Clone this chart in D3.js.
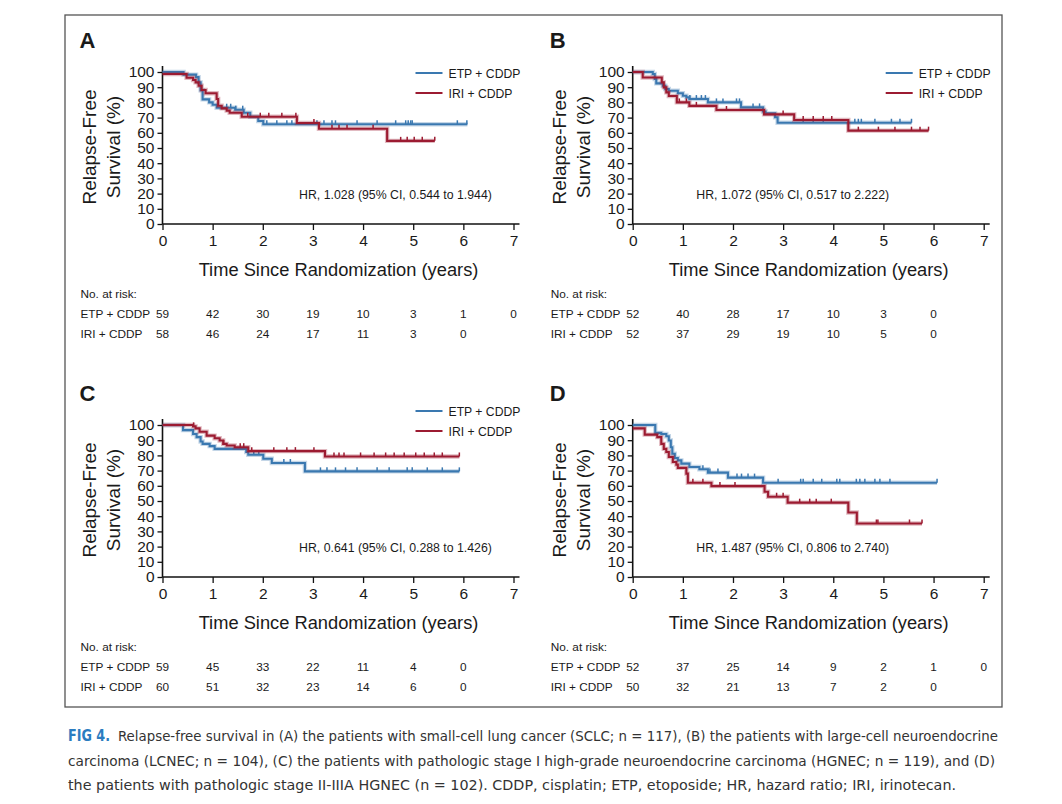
<!DOCTYPE html>
<html>
<head>
<meta charset="utf-8">
<script src="https://cdn.jsdelivr.net/npm/d3@7"></script>
<style>
  body { margin: 0; background: #fff; }
  text { font-family: "Liberation Sans", Arial, sans-serif; fill: #1a1a1a; }
</style>
</head>
<body>
<div id="chart"></div>
<script>
// axis ticks
const years = [0, 1, 2, 3, 4, 5, 6, 7];
const yTicks = [0, 10, 20, 30, 40, 50, 60, 70, 80, 90, 100];
const arms = ["ETP + CDDP", "IRI + CDDP"];

// A: SCLC
const A_etp_t = [0, 0.42, 0.67, 0.72, 0.76, 0.8, 0.93, 1.0, 1.08, 1.45, 1.62, 1.75, 1.91, 2.01];
const A_etp_s = [100, 98.3, 96.6, 93.2, 88, 82, 80, 78.5, 76.5, 75.2, 73.2, 70.6, 67.8, 65.6];
const A_etp_end = 6.08;
const A_etp_cens = [1.28, 1.36, 1.46, 1.6, 2.08, 2.28, 2.48, 2.58, 3.08, 3.22, 3.38, 3.45, 3.88, 4.28, 4.65, 4.85, 4.9, 4.95, 4.98, 5.88, 6.07];
const A_iri_t = [0, 0.48, 0.61, 0.66, 0.72, 0.78, 0.86, 1.08, 1.11, 1.18, 1.28, 1.34, 1.58, 2.68, 3.12, 4.48];
const A_iri_s = [98.7, 96.2, 94.7, 93.2, 91, 88.2, 86, 82.2, 77.8, 76.1, 74.6, 73.2, 70.6, 66.4, 62.7, 54.7];
const A_iri_end = 5.43;
const A_iri_cens = [1.7, 1.95, 2.12, 2.38, 2.66, 3.02, 3.38, 3.52, 3.68, 4.2, 4.75, 4.88, 5.02, 5.18, 5.43];
const A_risk_etp = [59, 42, 30, 19, 10, 3, 1, 0];
const A_risk_iri = [58, 46, 24, 17, 11, 3, 0];
const A_hr = "HR, 1.028 (95% CI, 0.544 to 1.944)";

// B: LCNEC
const B_etp_t = [0, 0.40, 0.44, 0.47, 0.6, 0.65, 0.72, 0.9, 1.0, 1.07, 1.13, 1.5, 2.16, 2.6, 2.65, 2.84, 2.89];
const B_etp_s = [100, 98.7, 95.4, 92.5, 91, 88.8, 87.7, 86, 84.4, 83.3, 82.2, 80, 76.7, 74, 72.8, 70.2, 66.6];
const B_etp_end = 5.56;
const B_etp_cens = [1.14, 1.27, 1.37, 1.45, 1.67, 1.8, 2.07, 2.13, 2.4, 2.53, 3.4, 3.6, 3.8, 4.43, 4.5, 4.56, 4.83, 5.16, 5.33, 5.56];
const B_iri_t = [0, 0.2, 0.58, 0.62, 0.67, 0.72, 0.88, 1.13, 1.67, 2.62, 3.22, 4.3];
const B_iri_s = [100, 96.4, 93.2, 89.9, 86.6, 84.2, 80, 77.7, 75, 72.1, 68.4, 61.4];
const B_iri_end = 5.9;
const B_iri_cens = [0.93, 1.07, 1.27, 1.87, 3.0, 3.4, 3.6, 3.8, 3.97, 4.5, 4.9, 5.23, 5.56, 5.73, 5.9];
const B_risk_etp = [52, 40, 28, 17, 10, 3, 0];
const B_risk_iri = [52, 37, 29, 19, 10, 5, 0];
const B_hr = "HR, 1.072 (95% CI, 0.517 to 2.222)";

// C: stage I HGNEC
const C_etp_t = [0, 0.41, 0.61, 0.68, 0.76, 0.8, 0.94, 1.04, 1.67, 1.71, 2.01, 2.18, 2.84];
const C_etp_s = [100, 96.6, 94.1, 92, 89.1, 87.6, 86.1, 84.3, 82.2, 80.4, 77.8, 75, 69.5];
const C_etp_end = 5.92;
const C_etp_cens = [1.82, 1.92, 2.42, 2.55, 3.15, 3.28, 3.45, 3.65, 3.88, 4.28, 4.52, 4.88, 4.98, 5.28, 5.58, 5.92];
const C_iri_t = [0, 0.61, 0.66, 0.74, 0.88, 1.04, 1.14, 1.21, 1.28, 1.44, 1.71, 3.24];
const C_iri_s = [100, 99.1, 97.8, 95.6, 93, 91.3, 89.8, 87.6, 86.5, 85.4, 82.8, 79.3];
const C_iri_end = 5.92;
const C_iri_cens = [0.62, 1.22, 1.55, 1.62, 1.78, 2.22, 2.48, 2.65, 3.02, 3.42, 3.52, 3.62, 3.95, 4.22, 4.45, 4.62, 4.82, 5.05, 5.22, 5.42, 5.58, 5.92];
const C_risk_etp = [59, 45, 33, 22, 11, 4, 0];
const C_risk_iri = [60, 51, 32, 23, 14, 6, 0];
const C_hr = "HR, 0.641 (95% CI, 0.288 to 1.426)";

// D: stage II-IIIA HGNEC
const D_etp_t = [0, 0.45, 0.57, 0.67, 0.72, 0.76, 0.79, 0.84, 0.90, 0.97, 1.13, 1.33, 1.50, 1.90, 2.60];
const D_etp_s = [100, 94.8, 94.1, 92.6, 89.8, 85.4, 81.1, 78.3, 76.7, 74.6, 72.4, 70.9, 68.7, 65.4, 62];
const D_etp_end = 6.07;
const D_etp_cens = [1.4, 1.54, 1.7, 2.08, 2.17, 2.3, 2.43, 2.9, 3.35, 3.4, 3.6, 3.77, 4.07, 4.13, 4.46, 4.53, 4.63, 4.83, 4.93, 5.13, 6.07];
const D_iri_t = [0, 0.24, 0.49, 0.57, 0.62, 0.67, 0.72, 0.80, 0.87, 0.90, 1.07, 1.10, 1.57, 2.63, 2.70, 3.09, 4.30, 4.47];
const D_iri_s = [97.8, 93.7, 92, 87.6, 84.3, 82.2, 78.9, 75.7, 73.9, 71.8, 68, 62, 59.8, 56.1, 52.8, 48.9, 42.4, 35.2];
const D_iri_end = 5.77;
const D_iri_cens = [1.2, 1.4, 1.74, 2.04, 2.87, 3.0, 3.33, 3.53, 3.66, 3.96, 4.86, 4.89, 5.52, 5.77];
const D_risk_etp = [52, 37, 25, 14, 9, 2, 1, 0];
const D_risk_iri = [50, 32, 21, 13, 7, 2, 0];
const D_hr = "HR, 1.487 (95% CI, 0.806 to 2.740)";

const captionLines = [
  "Relapse-free survival in (A) the patients with small-cell lung cancer (SCLC; n = 117), (B) the patients with large-cell neuroendocrine",
  "carcinoma (LCNEC; n = 104), (C) the patients with pathologic stage I high-grade neuroendocrine carcinoma (HGNEC; n = 119), and (D)",
  "the patients with pathologic stage II-IIIA HGNEC (n = 102). CDDP, cisplatin; ETP, etoposide; HR, hazard ratio; IRI, irinotecan."
];

const blue = "#3a78b0";
const red = "#9c1b31";

const W = 1062, H = 804;
const svg = d3.select("#chart").append("svg")
    .attr("width", W)
    .attr("height", H);

// frame
svg.append("rect")
    .attr("x", 65).attr("y", 15)
    .attr("width", 937).attr("height", 692)
    .attr("fill", "none")
    .attr("stroke", "#555")
    .attr("stroke-width", 1.3);

const panels = [
  {id: "A", left: 162.5, bottom: 224, legend: true,
   etp: {t: A_etp_t, s: A_etp_s, end: A_etp_end, cens: A_etp_cens},
   iri: {t: A_iri_t, s: A_iri_s, end: A_iri_end, cens: A_iri_cens},
   risk: [A_risk_etp, A_risk_iri], hr: A_hr},
  {id: "B", left: 632.7, bottom: 224, legend: true,
   etp: {t: B_etp_t, s: B_etp_s, end: B_etp_end, cens: B_etp_cens},
   iri: {t: B_iri_t, s: B_iri_s, end: B_iri_end, cens: B_iri_cens},
   risk: [B_risk_etp, B_risk_iri], hr: B_hr},
  {id: "C", left: 162.5, bottom: 577, legend: true, legendUp: true,
   etp: {t: C_etp_t, s: C_etp_s, end: C_etp_end, cens: C_etp_cens},
   iri: {t: C_iri_t, s: C_iri_s, end: C_iri_end, cens: C_iri_cens},
   risk: [C_risk_etp, C_risk_iri], hr: C_hr},
  {id: "D", left: 632.7, bottom: 577, legend: false,
   etp: {t: D_etp_t, s: D_etp_s, end: D_etp_end, cens: D_etp_cens},
   iri: {t: D_iri_t, s: D_iri_s, end: D_iri_end, cens: D_iri_cens},
   risk: [D_risk_etp, D_risk_iri], hr: D_hr}
];

function survAt(c, t, s){
    let v = s[0];
    for(let i=0;i<t.length;i++){ if(t[i] <= c) v = s[i]; }
    return v;
}

panels.forEach(p => {

    const x = d3.scaleLinear().domain([0, 7]).range([p.left, p.left + 351]);
    const y = d3.scaleLinear().domain([0, 100]).range([p.bottom, p.bottom - 152]);
    const top = p.bottom - 152;
    const g = svg.append("g");

    // panel letter
    g.append("text")
        .attr("x", p.left - 83).attr("y", top - 24)
        .attr("font-size", 22).attr("font-weight", "bold")
        .text(p.id);

    // y axis
    const ya = g.append("g")
        .attr("transform", `translate(${p.left},0)`)
        .call(d3.axisLeft(y).tickValues(yTicks).tickSize(5).tickSizeOuter(0).tickPadding(3));
    ya.select(".domain").remove();
    ya.selectAll("line").attr("stroke", "#111").attr("stroke-width", 1.3);
    ya.selectAll("text").attr("font-size", 15.5).attr("font-family", "Liberation Sans, Arial, sans-serif").attr("fill", "#1a1a1a");

    // x axis
    const xa = g.append("g")
        .attr("transform", `translate(0,${p.bottom})`)
        .call(d3.axisBottom(x).tickValues(years).tickFormat(d3.format("d")).tickSize(6).tickSizeOuter(0).tickPadding(5));
    xa.select(".domain").remove();
    xa.selectAll("line").attr("stroke", "#111").attr("stroke-width", 1.3);
    xa.selectAll("text").attr("font-size", 15.5).attr("font-family", "Liberation Sans, Arial, sans-serif").attr("fill", "#1a1a1a");

    g.append("line")
        .attr("x1", p.left).attr("x2", p.left)
        .attr("y1", p.bottom).attr("y2", top - 6)
        .attr("stroke", "#111").attr("stroke-width", 1.6);
    g.append("line")
        .attr("x1", p.left).attr("x2", x(7) + 6)
        .attr("y1", p.bottom).attr("y2", p.bottom)
        .attr("stroke", "#111").attr("stroke-width", 1.6);

    // axis titles
    g.append("text")
        .attr("x", p.left + 176).attr("y", p.bottom + 52)
        .attr("text-anchor", "middle")
        .attr("font-size", 18.3)
        .text("Time Since Randomization (years)");
    const ymid = p.bottom - 77;
    g.append("text")
        .attr("transform", `translate(${p.left - 67},${ymid}) rotate(-90)`)
        .attr("text-anchor", "middle")
        .attr("font-size", 19)
        .text("Relapse-Free");
    g.append("text")
        .attr("transform", `translate(${p.left - 43},${ymid}) rotate(-90)`)
        .attr("text-anchor", "middle")
        .attr("font-size", 19)
        .text("Survival (%)");

    // curves
    const line = d3.line()
        .x(d => x(d[0]))
        .y(d => y(d[1]))
        .curve(d3.curveStepAfter);

    [[p.etp, blue], [p.iri, red]].forEach(([c, col]) => {
        const pts = c.t.map((t, i) => [t, c.s[i]]);
        pts.push([c.end, c.s[c.s.length - 1]]);
        g.append("path").datum(pts)
            .attr("d", line).attr("fill", "none")
            .attr("stroke", col).attr("stroke-opacity", 0.3).attr("stroke-width", 4.4);
        g.append("path").datum(pts)
            .attr("d", line).attr("fill", "none")
            .attr("stroke", col).attr("stroke-width", 2.1);
        g.selectAll(null).data(c.cens).enter().append("line")
            .attr("x1", d => x(d)).attr("x2", d => x(d))
            .attr("y1", d => y(survAt(d, c.t, c.s)) - 4)
            .attr("y2", d => y(survAt(d, c.t, c.s)))
            .attr("stroke", col).attr("stroke-width", 1.5);
    });

    // HR
    g.append("text")
        .attr("x", p.id === "A" || p.id === "C" ? p.left + 233 : p.left + 160)
        .attr("y", p.bottom - 25)
        .attr("text-anchor", "middle")
        .attr("font-size", 12.3)
        .text(p.hr);

    // legend
    if(p.legend){
        const ly = p.legendUp ? top - 14 : top + 1;
        [[arms[0], blue], [arms[1], red]].forEach(([name, col], i) => {
            g.append("line")
                .attr("x1", p.left + 253).attr("x2", p.left + 280)
                .attr("y1", ly + i * 20).attr("y2", ly + i * 20)
                .attr("stroke", col).attr("stroke-width", 2);
            g.append("text")
                .attr("x", p.left + 286).attr("y", ly + i * 20 + 4.5)
                .attr("font-size", 12.2)
                .text(name);
        });
    }

    // risk table
    const ry = p.bottom + 74;
    g.append("text")
        .attr("x", p.left - 82).attr("y", ry)
        .attr("font-size", 11.8)
        .text("No. at risk:");
    p.risk.forEach((row, i) => {
        const rowY = ry + 20 * (i + 1);
        g.append("text")
            .attr("x", p.left - 82).attr("y", rowY)
            .attr("font-size", 11.8)
            .text(arms[i]);
        g.selectAll(null).data(row).enter().append("text")
            .attr("x", (d, j) => x(years[j]))
            .attr("y", rowY)
            .attr("text-anchor", "middle")
            .attr("font-size", 11.8)
            .text(d => d);
    });
});

// caption
svg.append("text")
    .attr("x", 68).attr("y", 741)
    .attr("font-size", 15)
    .attr("font-weight", "bold")
    .attr("textLength", 42)
    .attr("lengthAdjust", "spacingAndGlyphs")
    .style("font-family", "'Liberation Sans Narrow', 'DejaVu Sans Condensed', sans-serif")
    .style("fill", "#2b7cc0")
    .text("FIG 4.");
const capX = [118, 68, 68];
const capLen = [880, 927, 888];
captionLines.forEach((s, i) => {
    svg.append("text")
        .attr("x", capX[i]).attr("y", 741 + i * 24.5)
        .attr("font-size", 14.5)
        .attr("textLength", capLen[i])
        .attr("lengthAdjust", "spacingAndGlyphs")
        .style("font-family", "'Liberation Sans Narrow', 'DejaVu Sans Condensed', sans-serif")
        .style("fill", "#333")
        .text(s);
});
</script>
</body>
</html>
